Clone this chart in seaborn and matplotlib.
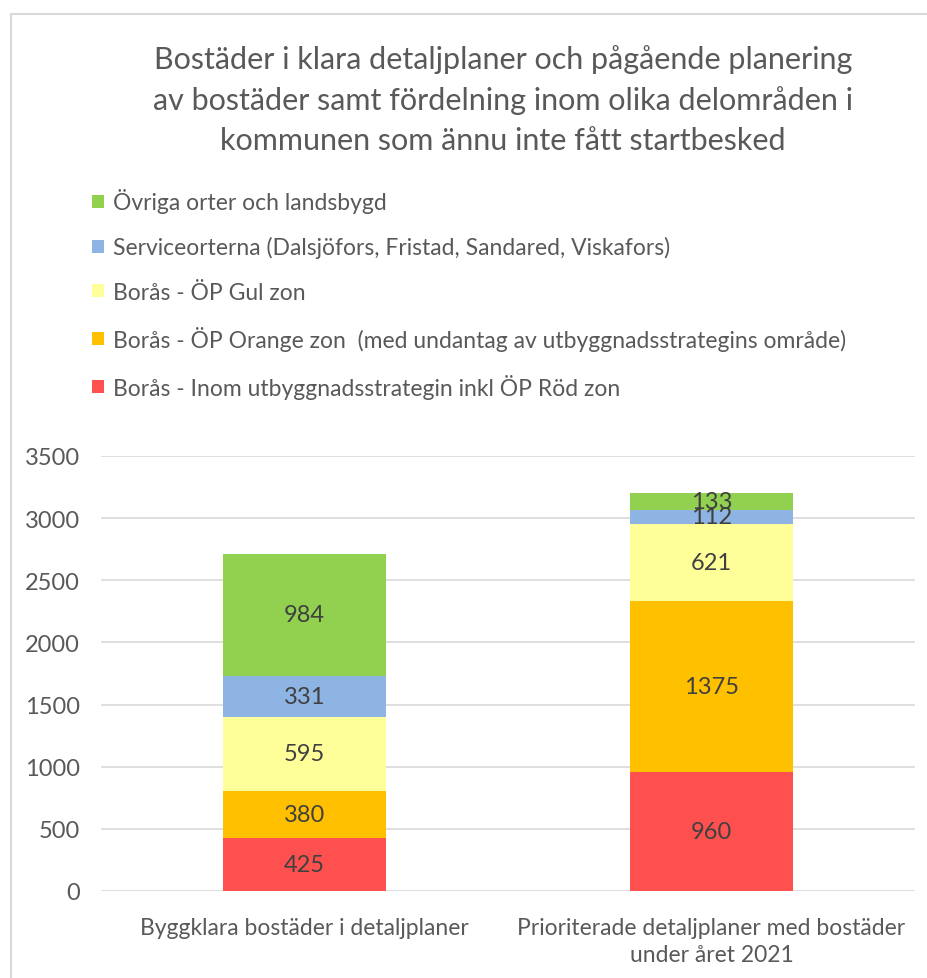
import matplotlib
matplotlib.use("Agg")
import matplotlib.pyplot as plt
import seaborn as sns
import pandas as pd
import numpy as np
from matplotlib.patches import Patch, Rectangle

categories = ["Byggklara bostäder i detaljplaner",
              "Prioriterade detaljplaner med bostäder\nunder året 2021"]
series = ["Borås - Inom utbyggnadsstrategin inkl ÖP Röd zon",
          "Borås - ÖP Orange zon  (med undantag av utbyggnadsstrategins område)",
          "Borås - ÖP Gul zon",
          "Serviceorterna (Dalsjöfors, Fristad, Sandared, Viskafors)",
          "Övriga orter och landsbygd"]
red = [425, 960]
orange = [380, 1375]
yellow = [595, 621]
blue = [331, 112]
green = [984, 133]
colors = ["#FF5050", "#FFC000", "#FFFF99", "#8EB4E3", "#92D050"]
yticks = [0, 500, 1000, 1500, 2000, 2500, 3000, 3500]
title = ("Bostäder i klara detaljplaner och pågående planering\n"
         "av bostäder samt fördelning inom olika delområden i\n"
         "kommunen som ännu inte fått startbesked")

sns.set_theme(style="white")
FONT = "Lato"
plt.rcParams["font.family"] = [FONT, "DejaVu Sans"]
TXT = "#595959"

values = [red, orange, yellow, blue, green]
cum = np.cumsum(np.array(values), axis=0)

fig = plt.figure(figsize=(9.28, 9.79), dpi=100)
ax = fig.add_axes([101/928, 1-892/979, (915-101)/928, (892-457)/979])

# draw cumulative bars from tallest to shortest
for i in range(len(series)-1, -1, -1):
    df = pd.DataFrame({"cat": categories, "val": cum[i]})
    sns.barplot(data=df, x="cat", y="val", color=colors[i], saturation=1,
                width=0.4, ax=ax, linewidth=0, zorder=2)

for i in range(len(series)):
    for j in range(len(categories)):
        ax.text(j, cum[i][j] - values[i][j]/2, str(values[i][j]),
                ha="center", va="center", fontsize=17, color="#404040", zorder=3)

ax.set_ylim(0, 3500)
ax.set_yticks(yticks)
ax.set_xlim(-0.5, 1.5)
ax.yaxis.grid(True, color="#D9D9D9", linewidth=1.2, zorder=0)
ax.set_axisbelow(True)
for s in ax.spines.values():
    s.set_visible(False)
ax.set_xlabel("")
ax.set_ylabel("")
ax.tick_params(axis="y", length=0, pad=15, labelsize=17, labelcolor=TXT)
ax.tick_params(axis="x", length=0, pad=18.5, labelsize=16.5, labelcolor=TXT)
for lab in ax.get_xticklabels():
    lab.set_linespacing(1.4)

# outer frame
fig.patches.append(Rectangle((11/928, -0.1), 1.2, 1-15/979+0.1, transform=fig.transFigure,
                             fill=False, edgecolor="#D9D9D9", linewidth=1.5))

fig.text(503/928, 1-100/979, title, ha="center", va="center", fontsize=22,
         color=TXT, linespacing=1.5)

handles = [Patch(facecolor=colors[i], edgecolor="none") for i in range(len(series)-1, -1, -1)]
labels = [series[i] for i in range(len(series)-1, -1, -1)]
fig.legend(handles, labels, loc="upper left", bbox_to_anchor=(83/928, 1-180/979),
           frameon=False, fontsize=16.5, labelcolor=TXT, handlelength=0.5,
           handleheight=0.5, handletextpad=0.4, labelspacing=1.01, borderaxespad=0)

fig.savefig("out.png", dpi=100)
